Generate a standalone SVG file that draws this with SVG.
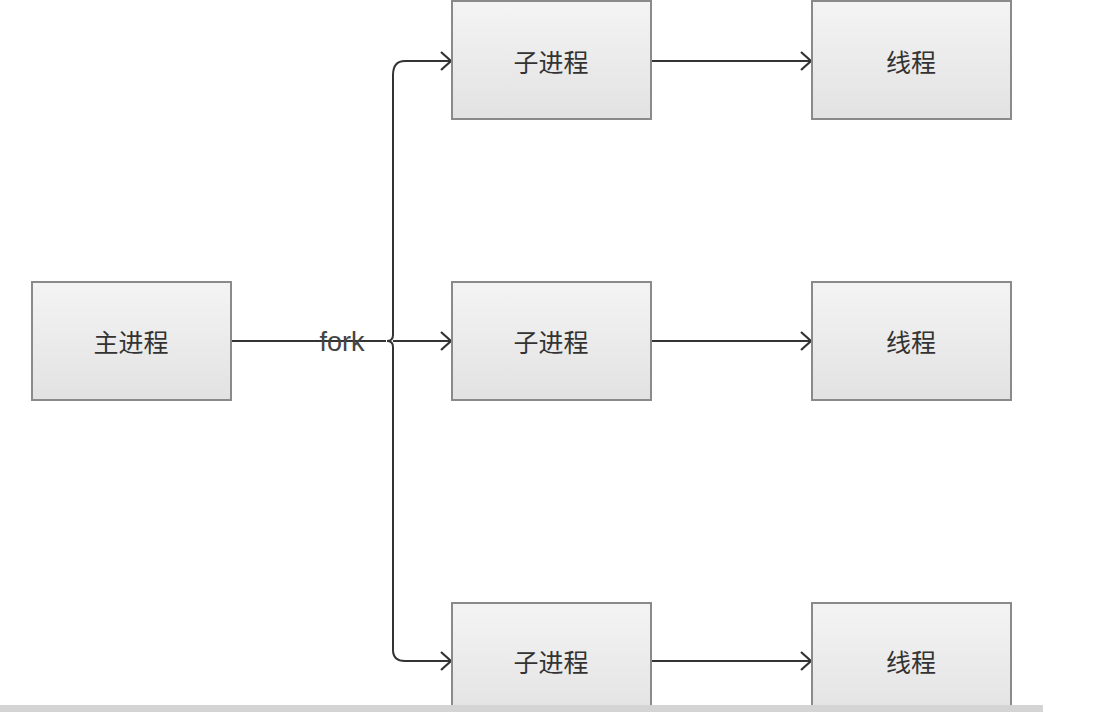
<svg xmlns="http://www.w3.org/2000/svg" width="1094" height="712" viewBox="0 0 1094 712">
<defs>
<linearGradient id="g" x1="0" y1="0" x2="0" y2="1">
<stop offset="0" stop-color="#f4f4f4"/>
<stop offset="1" stop-color="#e2e2e2"/>
</linearGradient>
<marker id="arr" markerWidth="16" markerHeight="22" refX="13" refY="11" orient="auto" markerUnits="userSpaceOnUse">
<path d="M3,2 L13,11 L3,20" fill="none" stroke="#333" stroke-width="2.2"/>
</marker>
<style>
.box{fill:url(#g);stroke:#8a8a8a;stroke-width:2}
.lbl{font-family:"Noto Sans CJK SC","Liberation Sans",sans-serif;font-size:25px;fill:#333;text-anchor:middle;dominant-baseline:central}
.ln{fill:none;stroke:#333;stroke-width:2}
</style>
</defs>
<rect width="1094" height="712" fill="#fff"/>
<g id="connectors">
<path class="ln" d="M231,341 H386"/>
<path class="ln" d="M393,75 V335 Q393,341 387,341 Q393,341 393,347 V650"/>
<path class="ln" d="M393,75 Q393,61 405,61 H451" marker-end="url(#arr)"/>
<path class="ln" d="M393,341 H451" marker-end="url(#arr)"/>
<path class="ln" d="M393,650 Q393,661 405,661 H451" marker-end="url(#arr)"/>
<path class="ln" d="M651,61 H811" marker-end="url(#arr)"/>
<path class="ln" d="M651,341 H811" marker-end="url(#arr)"/>
<path class="ln" d="M651,661 H811" marker-end="url(#arr)"/>
<text x="342" y="342" font-family="'Liberation Sans',sans-serif" font-size="27" fill="#444" text-anchor="middle" dominant-baseline="central">fork</text>
</g>
<g id="main"><rect class="box" x="32" y="282" width="199" height="118"/><text class="lbl" x="131" y="341">主进程</text></g>
<g id="child1"><rect class="box" x="452" y="1" width="199" height="118"/><text class="lbl" x="551" y="61">子进程</text></g>
<g id="child2"><rect class="box" x="452" y="282" width="199" height="118"/><text class="lbl" x="551" y="341">子进程</text></g>
<g id="child3"><rect class="box" x="452" y="603" width="199" height="118"/><text class="lbl" x="551" y="661">子进程</text></g>
<g id="thread1"><rect class="box" x="812" y="1" width="199" height="118"/><text class="lbl" x="911" y="61">线程</text></g>
<g id="thread2"><rect class="box" x="812" y="282" width="199" height="118"/><text class="lbl" x="911" y="341">线程</text></g>
<g id="thread3"><rect class="box" x="812" y="603" width="199" height="118"/><text class="lbl" x="911" y="661">线程</text></g>
<rect x="0" y="705" width="1043" height="7" fill="#d4d4d4"/>
</svg>
